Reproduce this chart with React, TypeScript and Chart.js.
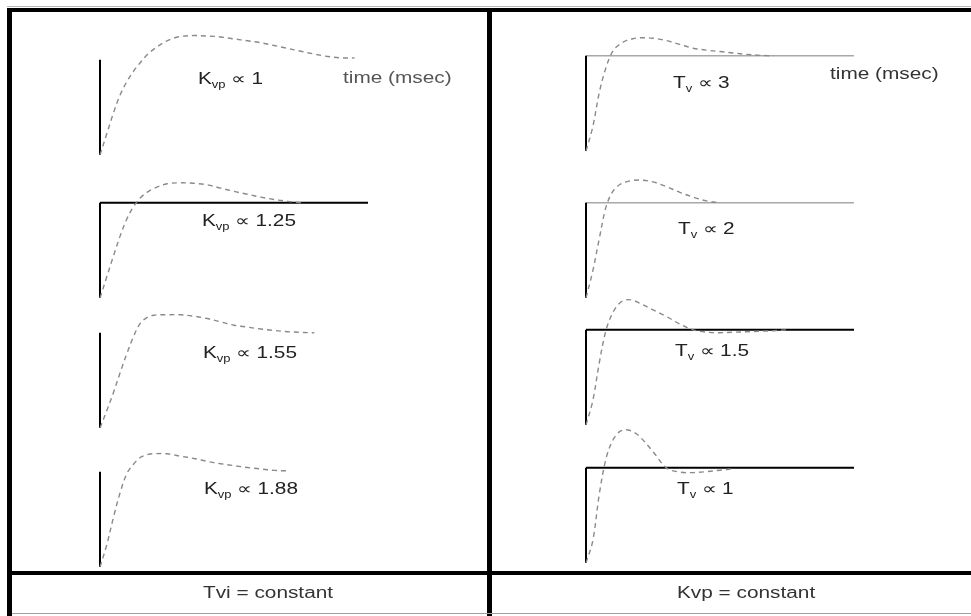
import React, { useEffect, useRef } from "react";
import { Chart, registerables } from "chart.js";

Chart.register(...registerables);

// Sample times (msec) shared by every step response
const TIME_MS = [0, 0.25, 0.5, 0.75, 1, 1.25, 1.5, 1.75, 2, 2.5, 3, 3.5, 4, 4.5, 5, 5.5, 6, 6.5, 7, 7.5, 8, 8.5, 9, 9.5];
const AXIS_END_MS = 10;
const STEADY_STATE = 1;
const Y_MAX = 1.45;

// Velocity step responses, Tvi constant, Kvp varied (normalised to the set point)
const KVP_1_00 = [0, 0.22, 0.44, 0.63, 0.77, 0.88, 0.97, 1.05, 1.11, 1.2, 1.245, 1.255, 1.25, 1.24, 1.22, 1.2, 1.18, 1.15, 1.12, 1.09, 1.06, 1.035, 1.02, 1.02];
const KVP_1_25 = [0, 0.22, 0.44, 0.65, 0.83, 0.96, 1.05, 1.11, 1.15, 1.2, 1.21, 1.205, 1.19, 1.155, 1.12, 1.09, 1.06, 1.035, 1.015, 1.0, null, null, null, null];
const KVP_1_55 = [0, 0.18, 0.37, 0.58, 0.78, 0.96, 1.1, 1.16, 1.185, 1.19, 1.19, 1.175, 1.15, 1.115, 1.08, 1.06, 1.04, 1.025, 1.012, 1.005, 1.0, null, null, null];
const KVP_1_88 = [0, 0.23, 0.52, 0.78, 0.98, 1.08, 1.15, 1.18, 1.19, 1.19, 1.165, 1.14, 1.11, 1.085, 1.065, 1.045, 1.03, 1.015, 1.01, null, null, null, null, null];

// Velocity step responses, Kvp constant, Tv varied
const TV_3_0 = [0, 0.25, 0.62, 0.88, 1.05, 1.12, 1.16, 1.18, 1.19, 1.185, 1.16, 1.12, 1.08, 1.06, 1.045, 1.03, 1.015, 1.005, 1.0, null, null, null, null, null];
const TV_2_0 = [0, 0.28, 0.63, 0.96, 1.12, 1.19, 1.22, 1.235, 1.24, 1.22, 1.17, 1.11, 1.06, 1.02, 1.0, null, null, null, null, null, null, null, null, null];
const TV_1_5 = [0, 0.25, 0.66, 1.0, 1.18, 1.28, 1.315, 1.31, 1.28, 1.21, 1.14, 1.06, 1.0, 0.975, 0.97, 0.975, 0.98, 0.985, 0.99, 1.0, null, null, null, null];
const TV_1_0 = [0, 0.23, 0.73, 1.1, 1.29, 1.38, 1.4, 1.38, 1.33, 1.17, 1.0, 0.955, 0.95, 0.96, 0.975, 0.99, null, null, null, null, null, null, null, null];

type AxisStyle = "none" | "black" | "gray";

const PAD = 4;
const PLOT_W = 268;
const PLOT_H = 138;

function StepPlot(props: { values: (number | null)[]; axis: AxisStyle; x0: number; yb: number }) {
  const ref = useRef<HTMLCanvasElement | null>(null);
  const { values, axis, x0, yb } = props;

  useEffect(() => {
    if (!ref.current) return;
    const curve = TIME_MS.map((t, i) => ({ x: t, y: values[i] })).filter((p) => p.y !== null);
    const datasets: any[] = [
      {
        data: curve,
        borderColor: "#8a8a8a",
        borderWidth: 1.4,
        borderDash: [5, 4],
        tension: 0.35,
        pointRadius: 0,
        clip: false,
      },
      {
        data: [
          { x: 0, y: 0 },
          { x: 0, y: STEADY_STATE },
        ],
        borderColor: "#000",
        borderWidth: 2,
        pointRadius: 0,
        clip: false,
      },
    ];
    if (axis !== "none") {
      datasets.push({
        data: [
          { x: 0, y: STEADY_STATE },
          { x: AXIS_END_MS, y: STEADY_STATE },
        ],
        borderColor: axis === "black" ? "#000" : "#a8a8a8",
        borderWidth: axis === "black" ? 2 : 1.5,
        pointRadius: 0,
        clip: false,
      });
    }
    const chart = new Chart(ref.current, {
      type: "line",
      data: { datasets },
      options: {
        animation: false,
        responsive: false,
        devicePixelRatio: 1,
        layout: { padding: PAD },
        scales: {
          x: { type: "linear", min: 0, max: AXIS_END_MS, display: false },
          y: { type: "linear", min: 0, max: Y_MAX, display: false },
        },
        plugins: { legend: { display: false }, tooltip: { enabled: false } },
        elements: { point: { radius: 0 } },
      },
    });
    return () => chart.destroy();
  }, [values, axis]);

  return (
    <canvas
      ref={ref}
      width={PLOT_W + 2 * PAD}
      height={PLOT_H + 2 * PAD}
      style={{ position: "absolute", left: x0 - PAD, top: yb - PLOT_H - PAD, width: PLOT_W + 2 * PAD, height: PLOT_H + 2 * PAD }}
    />
  );
}

function Label(props: { left: number; capTop: number; main: string; sub?: string; rest: string; color?: string }) {
  const { left, capTop, main, sub, rest, color } = props;
  return (
    <div
      style={{
        position: "absolute",
        left,
        top: capTop - 2,
        fontSize: 16,
        lineHeight: "16px",
        whiteSpace: "nowrap",
        color: color || "#222",
        transform: "scaleX(1.3)",
        transformOrigin: "left center",
      }}
    >
      {main}
      {sub ? <span style={{ fontSize: 10, position: "relative", top: 4 }}>{sub}</span> : null}
      {rest}
    </div>
  );
}

function Block(props: { left: number; top: number; width: number; height: number; color: string }) {
  const { left, top, width, height, color } = props;
  return <div style={{ position: "absolute", left, top, width, height, background: color }} />;
}

const footStyle: React.CSSProperties = {
  position: "absolute",
  top: 585,
  fontSize: 16,
  lineHeight: "16px",
  color: "#333",
  whiteSpace: "nowrap",
  transform: "scaleX(1.3)",
  transformOrigin: "left center",
};

export default function App() {
  return (
    <div
      style={{
        position: "absolute",
        left: 0,
        top: 0,
        width: 971,
        height: 616,
        overflow: "hidden",
        background: "#fff",
        fontFamily: '"Liberation Sans", Arial, sans-serif',
      }}
    >
      {/* frame */}
      <Block left={7} top={6} width={964} height={1} color="#b8b8b8" />
      <Block left={7} top={8} width={964} height={4} color="#000" />
      <Block left={7} top={8} width={5} height={608} color="#000" />
      <Block left={487} top={8} width={5} height={608} color="#000" />
      <Block left={7} top={571} width={964} height={4} color="#000" />
      <Block left={12} top={613} width={959} height={1} color="#a0a0a0" />

      {/* Tvi constant, Kvp varied */}
      <StepPlot values={KVP_1_00} axis="none" x0={100} yb={155} />
      <StepPlot values={KVP_1_25} axis="black" x0={100} yb={298} />
      <StepPlot values={KVP_1_55} axis="none" x0={100} yb={428} />
      <StepPlot values={KVP_1_88} axis="none" x0={100} yb={567} />

      {/* Kvp constant, Tv varied */}
      <StepPlot values={TV_3_0} axis="gray" x0={586} yb={151} />
      <StepPlot values={TV_2_0} axis="gray" x0={586} yb={298} />
      <StepPlot values={TV_1_5} axis="black" x0={586} yb={425} />
      <StepPlot values={TV_1_0} axis="black" x0={586} yb={563} />

      <Label left={198} capTop={73} main="K" sub="vp" rest=" ∝ 1" />
      <Label left={202} capTop={215} main="K" sub="vp" rest=" ∝ 1.25" />
      <Label left={203} capTop={347} main="K" sub="vp" rest=" ∝ 1.55" />
      <Label left={204} capTop={483} main="K" sub="vp" rest=" ∝ 1.88" />
      <Label left={343} capTop={72} main="time (msec)" rest="" color="#555" />

      <Label left={673} capTop={77} main="T" sub="v" rest=" ∝ 3" />
      <Label left={678} capTop={223} main="T" sub="v" rest=" ∝ 2" />
      <Label left={675} capTop={345} main="T" sub="v" rest=" ∝ 1.5" />
      <Label left={677} capTop={483} main="T" sub="v" rest=" ∝ 1" />
      <Label left={830} capTop={68} main="time (msec)" rest="" color="#333" />

      <div style={{ ...footStyle, left: 203 }}>Tvi = constant</div>
      <div style={{ ...footStyle, left: 677 }}>Kvp = constant</div>
    </div>
  );
}
